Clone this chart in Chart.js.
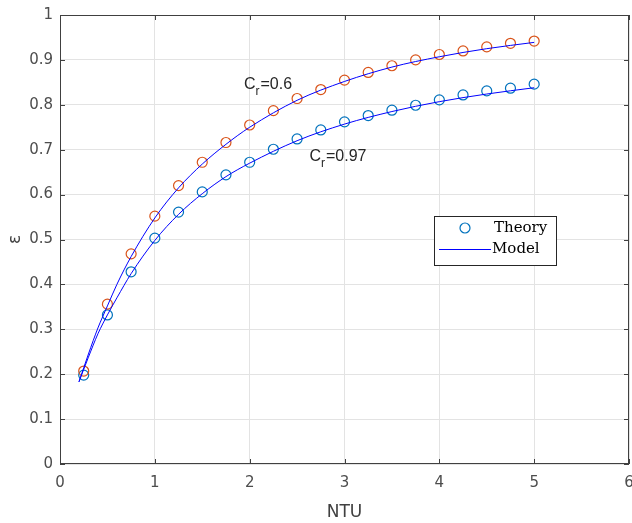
<!DOCTYPE html>
<html>
<head>
<meta charset="utf-8">
<script src="https://cdn.jsdelivr.net/npm/chart.js@4/dist/chart.umd.min.js"></script>
<style>
html, body { margin: 0; padding: 0; background: #fff; overflow: hidden; }
canvas { display: block; }
</style>
</head>
<body>
<canvas id="chart" width="632" height="523"></canvas>
<script>
// theory points (circles)
const ntu = [0.25, 0.5, 0.75, 1, 1.25, 1.5, 1.75, 2, 2.25, 2.5, 2.75, 3, 3.25, 3.5, 3.75, 4, 4.25, 4.5, 4.75, 5];
const theoryCr06 = [0.207, 0.356, 0.468, 0.552, 0.620, 0.672, 0.716, 0.755, 0.787, 0.814, 0.834, 0.855, 0.872, 0.887, 0.900, 0.912, 0.920, 0.929, 0.937, 0.942];
const theoryCr097 = [0.198, 0.332, 0.428, 0.503, 0.561, 0.606, 0.644, 0.672, 0.701, 0.724, 0.744, 0.762, 0.776, 0.788, 0.799, 0.811, 0.822, 0.831, 0.837, 0.846];

// model curves (lines)
const modelNtu = [0.2, 0.3, 0.4, 0.5, 0.6, 0.75, 1, 1.25, 1.5, 1.75, 2, 2.5, 3, 3.5, 4, 4.5, 5];
const modelCr06 = [0.183, 0.245, 0.303, 0.352, 0.400, 0.462, 0.548, 0.615, 0.668, 0.712, 0.750, 0.810, 0.852, 0.884, 0.907, 0.925, 0.939];
const modelCr097 = [0.183, 0.238, 0.290, 0.332, 0.370, 0.424, 0.498, 0.556, 0.602, 0.640, 0.670, 0.720, 0.757, 0.785, 0.807, 0.824, 0.838];

const xTicks = [0, 1, 2, 3, 4, 5, 6];
const yTicks = [0, 0.1, 0.2, 0.3, 0.4, 0.5, 0.6, 0.7, 0.8, 0.9, 1];

const labelFont = "'DejaVu Sans', sans-serif";
const annoFont = "'Liberation Sans', Arial, sans-serif";
const serifFont = "'DejaVu Serif', serif";
const axisColor = '#404040';
const orange = '#D95319';
const blue = '#0072BD';
const modelColor = '#0000FF';

const toXY = (xs, ys) => xs.map((x, i) => ({ x: x, y: ys[i] }));

// box, inward ticks, curve labels, legend
const matlabExtras = {
    id: 'matlabExtras',
    afterDraw(chart) {
        const ctx = chart.ctx;
        const a = chart.chartArea;
        const xs = chart.scales.x;
        const ys = chart.scales.y;
        ctx.save();

        ctx.strokeStyle = axisColor;
        ctx.lineWidth = 1;
        ctx.strokeRect(a.left + 0.5, a.top + 0.5, a.right - a.left - 1, a.bottom - a.top - 1);

        ctx.beginPath();
        xTicks.forEach(v => {
            const px = Math.round(xs.getPixelForValue(v)) + 0.5;
            ctx.moveTo(px, a.bottom); ctx.lineTo(px, a.bottom - 5);
            ctx.moveTo(px, a.top); ctx.lineTo(px, a.top + 5);
        });
        yTicks.forEach(v => {
            const py = Math.round(ys.getPixelForValue(v)) + 0.5;
            ctx.moveTo(a.left, py); ctx.lineTo(a.left + 5, py);
            ctx.moveTo(a.right, py); ctx.lineTo(a.right - 5, py);
        });
        ctx.stroke();

        // C_r labels
        const drawCr = (xv, yv, value) => {
            let px = xs.getPixelForValue(xv);
            const py = ys.getPixelForValue(yv);
            ctx.fillStyle = '#262626';
            ctx.textBaseline = 'alphabetic';
            ctx.textAlign = 'left';
            ctx.font = '16px ' + annoFont;
            ctx.fillText('C', px, py);
            px += ctx.measureText('C').width;
            ctx.font = '12px ' + annoFont;
            ctx.fillText('r', px, py + 6);
            px += ctx.measureText('r').width + 1;
            ctx.font = '16px ' + annoFont;
            ctx.fillText('=' + value, px, py);
        };
        drawCr(1.94, 0.835, '0.6');
        drawCr(2.63, 0.675, '0.97');

        // legend
        const lx = 434, ly = 216, lw = 122, lh = 49;
        ctx.fillStyle = '#fff';
        ctx.fillRect(lx, ly, lw, lh);
        ctx.strokeStyle = '#262626';
        ctx.strokeRect(lx + 0.5, ly + 0.5, lw, lh);
        ctx.strokeStyle = blue;
        ctx.lineWidth = 1.2;
        ctx.beginPath();
        ctx.arc(lx + 31, ly + 12, 5, 0, Math.PI * 2);
        ctx.stroke();
        ctx.strokeStyle = modelColor;
        ctx.lineWidth = 1.2;
        ctx.beginPath();
        ctx.moveTo(lx + 5, ly + 33.5);
        ctx.lineTo(lx + 57, ly + 33.5);
        ctx.stroke();
        ctx.fillStyle = '#000';
        ctx.font = '15px ' + serifFont;
        ctx.textBaseline = 'middle';
        ctx.fillText('Theory', lx + 60, ly + 12);
        ctx.fillText('Model', lx + 58, ly + 33);
        ctx.restore();
    }
};

new Chart(document.getElementById('chart'), {
    type: 'scatter',
    data: {
        datasets: [
            { label: 'Model', type: 'line', data: toXY(modelNtu, modelCr06), borderColor: modelColor, borderWidth: 1, pointRadius: 0, tension: 0.4, cubicInterpolationMode: 'monotone', fill: false },
            { label: 'Model', type: 'line', data: toXY(modelNtu, modelCr097), borderColor: modelColor, borderWidth: 1, pointRadius: 0, tension: 0.4, cubicInterpolationMode: 'monotone', fill: false },
            { label: 'Theory', data: toXY(ntu, theoryCr06), borderColor: orange, backgroundColor: 'rgba(0,0,0,0)', borderWidth: 1.2, pointRadius: 5 },
            { label: 'Theory', data: toXY(ntu, theoryCr097), borderColor: blue, backgroundColor: 'rgba(0,0,0,0)', borderWidth: 1.2, pointRadius: 5 }
        ]
    },
    options: {
        responsive: false,
        animation: false,
        layout: { autoPadding: false, padding: { top: 15, right: 3, left: 0, bottom: 0 } },
        plugins: { legend: { display: false }, tooltip: { enabled: false } },
        scales: {
            x: {
                type: 'linear', min: 0, max: 6,
                afterBuildTicks: s => { s.ticks = xTicks.map(v => ({ value: v })); },
                afterFit: s => { s.height = 59; s.paddingLeft = 0; s.paddingRight = 0; },
                grid: { color: '#e3e3e3', drawTicks: false },
                border: { display: false },
                ticks: { color: '#4d4d4d', font: { family: labelFont, size: 15 }, padding: 10, maxRotation: 0 },
                title: { display: true, text: 'NTU', color: '#404040', font: { family: labelFont, size: 17 }, padding: { top: 0, bottom: 0 } }
            },
            y: {
                type: 'linear', min: 0, max: 1,
                afterBuildTicks: s => { s.ticks = yTicks.map(v => ({ value: v })); },
                afterFit: s => { s.width = 60; s.paddingTop = 0; s.paddingBottom = 0; },
                grid: { color: '#e3e3e3', drawTicks: false },
                border: { display: false },
                ticks: { color: '#4d4d4d', font: { family: labelFont, size: 15 }, padding: 7, callback: v => (v === 0 || v === 1) ? String(v) : v.toFixed(1) },
                title: { display: true, text: 'ε', color: '#404040', font: { family: labelFont, size: 17 }, padding: { top: 5, bottom: 0 } }
            }
        }
    },
    plugins: [matlabExtras]
});
</script>
</body>
</html>
